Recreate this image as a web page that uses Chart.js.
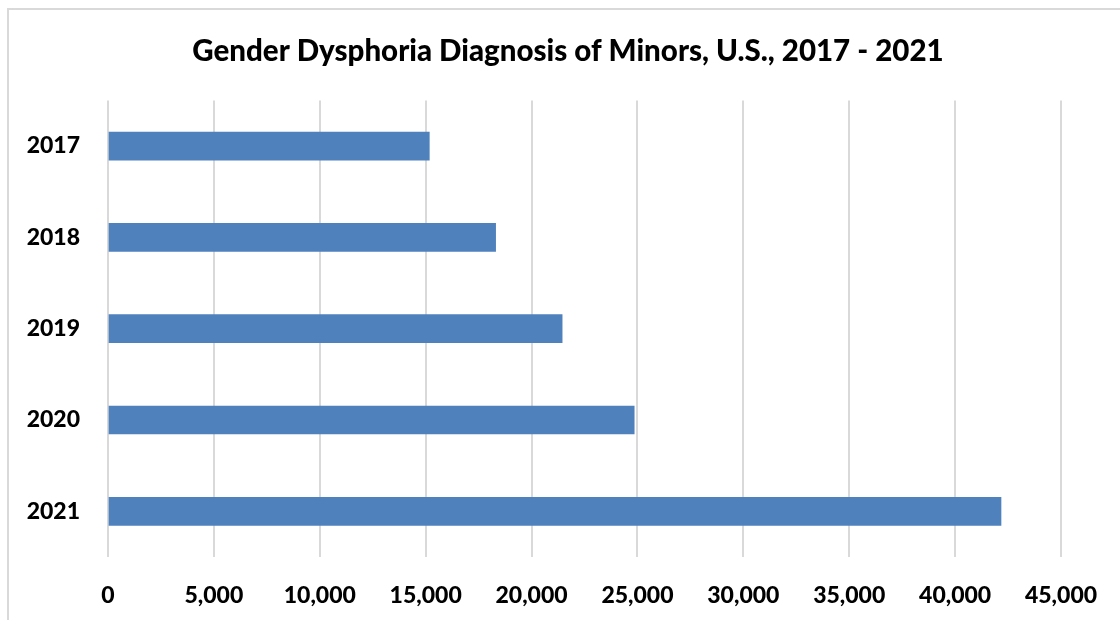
<!DOCTYPE html>
<html>
<head>
<meta charset="utf-8">
<script src="https://cdn.jsdelivr.net/npm/chart.js@4.4.1/dist/chart.umd.min.js"></script>
<style>
html,body{margin:0;padding:0;background:#fff;}
#wrap{width:1120px;height:620px;position:relative;}
</style>
</head>
<body>
<div id="wrap"><canvas id="c" width="1120" height="620"></canvas></div>
<script>
const titleText = 'Gender Dysphoria Diagnosis of Minors, U.S., 2017 - 2021';
const categories = ['2017', '2018', '2019', '2020', '2021'];
const diagnoses = [15172, 18303, 21444, 24847, 42167];
const xMin = 0, xMax = 45000, xStep = 5000;

const FONT = 'Lato, "Open Sans", sans-serif';

const frame = {
  id: 'frame',
  beforeDraw(chart) {
    const ctx = chart.ctx;
    ctx.save();
    ctx.fillStyle = '#ffffff';
    ctx.fillRect(0, 0, chart.width, chart.height);
    ctx.strokeStyle = '#d9d9d9';
    ctx.lineWidth = 2;
    ctx.strokeRect(8, 9, 1200, 800);
    ctx.restore();
  }
};

new Chart(document.getElementById('c'), {
  type: 'bar',
  data: {
    labels: categories,
    datasets: [{
      label: 'Diagnoses',
      data: diagnoses,
      backgroundColor: '#4f81bd',
      borderWidth: 0,
      barThickness: 28
    }]
  },
  options: {
    indexAxis: 'y',
    responsive: false,
    animation: false,
    devicePixelRatio: 1,
    layout: { padding: { left: 17, right: 1, top: 0, bottom: 0 } },
    plugins: {
      legend: { display: false },
      tooltip: { enabled: false },
      title: {
        display: true,
        text: titleText,
        color: '#000',
        font: { family: FONT, size: 29.5, weight: '900' },
        padding: { top: 34, bottom: 31 }
      }
    },
    scales: {
      x: {
        min: xMin, max: xMax,
        border: { display: false },
        grid: { color: '#d9d9d9', lineWidth: 2, drawTicks: false },
        ticks: {
          stepSize: xStep,
          color: '#000',
          padding: 25,
          font: { family: FONT, size: 23, weight: '900' },
          callback: v => Number(v).toLocaleString('en-US')
        },
        afterFit(s) { s.height = 63; s.paddingRight = 59; s.paddingLeft = 0; }
      },
      y: {
        border: { display: false },
        grid: { display: false, drawTicks: false },
        ticks: {
          color: '#000',
          padding: 28,
          font: { family: FONT, size: 23, weight: '900' }
        },
        afterFit(s) { s.width = 91; }
      }
    }
  },
  plugins: [frame]
});
</script>
</body>
</html>
